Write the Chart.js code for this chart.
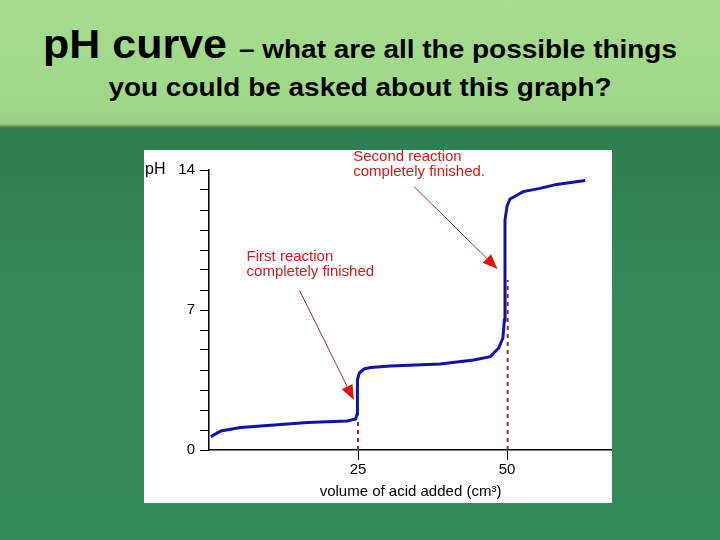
<!DOCTYPE html>
<html>
<head>
<meta charset="utf-8">
<script src="https://cdn.jsdelivr.net/npm/chart.js@4.4.0/dist/chart.umd.min.js"></script>
<style>
    html, body {
        margin: 0;
        padding: 0;
    }
    body {
        width: 720px;
        height: 540px;
        overflow: hidden;
        position: relative;
        font-family: "Liberation Sans", Arial, sans-serif;
        background: linear-gradient(to bottom,
            #a5dc8e 0px, #9fd889 110px, #96cf80 124px,
            #6c9c5a 126px, #3f7a4c 128px, #2e7f52 131px,
            #348a5b 300px, #338a5a 540px);
    }
    .title {
        position: absolute;
        left: 0;
        width: 720px;
        text-align: center;
        font-weight: bold;
        color: #000;
        white-space: nowrap;
        transform: scaleX(1.075);
        transform-origin: 360px 0;
    }
    #line1 {
        top: 24px;
        font-size: 40px;
        line-height: 40px;
    }
    #line1 span {
        font-size: 26px;
        line-height: 1;
    }
    #line2 {
        top: 74px;
        font-size: 26px;
        line-height: 26px;
    }
    #box {
        position: absolute;
        left: 144px;
        top: 150px;
        width: 468px;
        height: 353px;
        background: #fff;
    }
</style>
</head>
<body>
<div class="title" id="line1">pH curve <span>– what are all the possible things</span></div>
<div class="title" id="line2">you could be asked about this graph?</div>
<div id="box"><canvas id="phChart" width="468" height="353"></canvas></div>

<script>
// titration curve
const volume = [0.3, 2, 5.3, 10.9, 16.5, 23.2, 24.6, 24.85, 24.9, 25.2, 26, 27.1, 30.4, 38.8, 44.4, 47.2, 48.6, 49.3, 49.55, 49.65, 50.0, 50.5, 52.7, 55.5, 58.3, 63.1];
const ph = [0.67, 0.95, 1.12, 1.25, 1.38, 1.45, 1.55, 1.8, 3.5, 3.85, 4.05, 4.12, 4.2, 4.3, 4.5, 4.67, 5.1, 5.6, 6.5, 11.5, 12.2, 12.55, 12.92, 13.08, 13.28, 13.48];

// end points marked with dashed drop lines
const endVolumes = [25, 50.1];
const endPh = [1.45, 8.5];

const xTicks = [25, 50];
const yLabels = [0, 7, 14];

const notes = [
    { lines: ['First reaction', 'completely finished'], at: [6.3, 9.67], from: [15.2, 7.97], to: [24.3, 2.5] },
    { lines: ['Second reaction', 'completely finished.'], at: [24.2, 14.67], from: [34.4, 13.17], to: [48.4, 9.05] }
];

const FONT = '"Liberation Sans", Arial, sans-serif';

const annotations = {
    id: 'annotations',
    afterDraw(chart) {
        const ctx = chart.ctx;
        const x = chart.scales.x;
        const y = chart.scales.y;
        ctx.save();

        ctx.fillStyle = '#000';
        ctx.font = '16px ' + FONT;
        ctx.textBaseline = 'middle';
        ctx.textAlign = 'left';
        ctx.fillText('pH', 1, y.getPixelForValue(14));

        notes.forEach(n => {
            ctx.fillStyle = '#d21a1a';
            ctx.font = '15px ' + FONT;
            const tx = x.getPixelForValue(n.at[0]);
            const ty = y.getPixelForValue(n.at[1]);
            n.lines.forEach((l, i) => ctx.fillText(l, tx, ty + i * 15));

            const x1 = x.getPixelForValue(n.from[0]), y1 = y.getPixelForValue(n.from[1]);
            const x2 = x.getPixelForValue(n.to[0]), y2 = y.getPixelForValue(n.to[1]);
            const a = Math.atan2(y2 - y1, x2 - x1);
            const len = 15, half = 6;
            const bx = x2 - len * Math.cos(a), by = y2 - len * Math.sin(a);

            ctx.strokeStyle = '#a83030';
            ctx.lineWidth = 1;
            ctx.beginPath();
            ctx.moveTo(x1, y1);
            ctx.lineTo(bx, by);
            ctx.stroke();

            ctx.fillStyle = '#e31212';
            ctx.beginPath();
            ctx.moveTo(x2, y2);
            ctx.lineTo(bx + half * Math.sin(a), by - half * Math.cos(a));
            ctx.lineTo(bx - half * Math.sin(a), by + half * Math.cos(a));
            ctx.closePath();
            ctx.fill();
        });
        ctx.restore();
    }
};

const dropLine = (v, p) => ({
    data: [{ x: v, y: 0 }, { x: v, y: p }],
    borderColor: '#a0282c',
    borderWidth: 2,
    borderDash: [4, 4],
    pointRadius: 0
});

new Chart(document.getElementById('phChart').getContext('2d'), {
    type: 'line',
    data: {
        datasets: [
            {
                data: volume.map((v, i) => ({ x: v, y: ph[i] })),
                borderColor: '#1212a6',
                borderWidth: 3,
                pointRadius: 0,
                tension: 0
            },
            ...endVolumes.map((v, i) => dropLine(v, endPh[i]))
        ]
    },
    options: {
        responsive: false,
        animation: false,
        devicePixelRatio: 1,
        layout: { padding: { top: 20, right: 0, left: 0, bottom: 0 } },
        plugins: {
            legend: { display: false },
            tooltip: { enabled: false }
        },
        scales: {
            x: {
                type: 'linear',
                min: 0,
                max: 67.6,
                afterFit: s => { s.height = 53; },
                afterBuildTicks: s => { s.ticks = xTicks.map(v => ({ value: v })); },
                grid: { drawOnChartArea: false, drawTicks: true, tickLength: 10, color: '#000' },
                border: { display: true, color: '#000', width: 1.5 },
                ticks: { color: '#000', font: { family: FONT, size: 15 }, padding: 1, maxRotation: 0, autoSkip: false },
                title: {
                    display: true,
                    text: 'volume of acid added (cm³)',
                    color: '#000',
                    font: { family: FONT, size: 15 },
                    padding: { top: 0, bottom: 2 }
                }
            },
            y: {
                min: 0,
                max: 14,
                afterFit: s => { s.width = 65; },
                grid: { drawOnChartArea: false, drawTicks: true, tickLength: 9, color: '#000' },
                border: { display: true, color: '#000', width: 1.5 },
                ticks: {
                    stepSize: 1,
                    autoSkip: false,
                    color: '#000',
                    padding: 5,
                    font: { family: FONT, size: 15 },
                    callback: v => yLabels.includes(v) ? String(v) : ''
                }
            }
        }
    },
    plugins: [annotations]
});
</script>
</body>
</html>
